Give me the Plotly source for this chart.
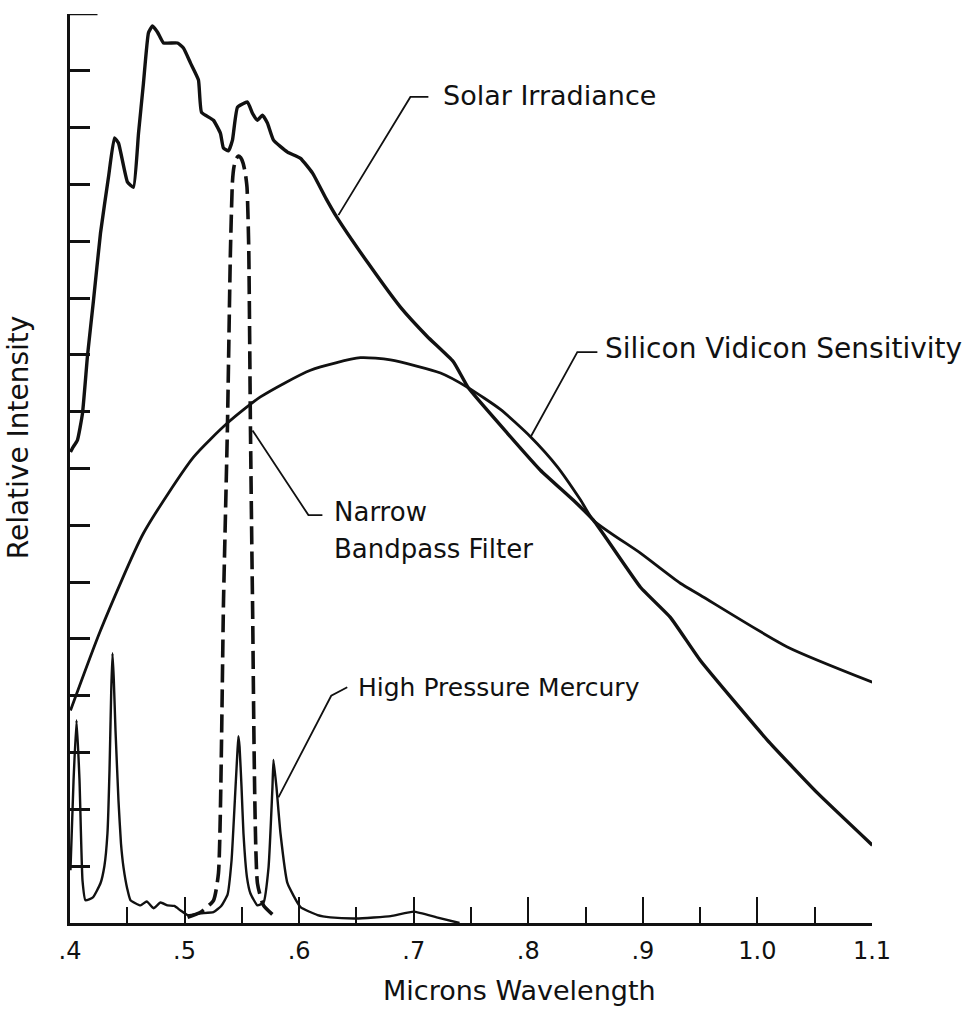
import plotly.graph_objects as go

# ---------------- data ----------------
solar_x = [0.4004, 0.4022, 0.4065, 0.4109, 0.4153, 0.4205, 0.4266, 0.4336, 0.4388, 0.4423,
           0.4502, 0.4554, 0.4598, 0.4641, 0.4685, 0.4720, 0.4764, 0.4816, 0.4938, 0.4990,
           0.5051, 0.5121, 0.5148, 0.5252, 0.5313, 0.5339, 0.5383, 0.5418, 0.5462, 0.5549,
           0.5593, 0.5636, 0.5680, 0.5723, 0.5776, 0.5898, 0.6012, 0.6117, 0.6235, 0.6330,
           0.6600, 0.6884, 0.7120, 0.7346, 0.7477, 0.7818, 0.8106, 0.8394, 0.8568, 0.8979,
           0.9240, 0.9502, 1.0086, 1.0523, 1.1003]
solar_y = [8.29, 8.36, 8.50, 8.97, 9.99, 10.96, 12.14, 13.13, 13.82, 13.73,
           13.04, 12.95, 13.90, 14.78, 15.67, 15.79, 15.68, 15.49, 15.49, 15.40,
           15.14, 14.84, 14.27, 14.13, 13.90, 13.64, 13.59, 13.78, 14.36, 14.45,
           14.25, 14.13, 14.22, 14.08, 13.78, 13.57, 13.46, 13.20, 12.75, 12.42,
           11.62, 10.84, 10.32, 9.88, 9.42, 8.62, 7.97, 7.44, 7.09, 5.91,
           5.38, 4.62, 3.22, 2.29, 1.37]

vidicon_x = [0.4004, 0.4266, 0.4641, 0.5078, 0.5374, 0.5662, 0.6099, 0.6535, 0.6797, 0.7234,
             0.7477, 0.7757, 0.8019, 0.8254, 0.8455, 0.8568, 0.8979, 0.9327, 0.9502, 1.0261,
             1.1003]
vidicon_y = [3.74, 5.15, 6.86, 8.20, 8.80, 9.26, 9.73, 9.95, 9.91, 9.68,
             9.42, 9.04, 8.56, 8.03, 7.45, 7.09, 6.51, 5.98, 5.77, 4.86,
             4.24]

filter_x = [0.5026, 0.5140, 0.5253, 0.5296, 0.5340, 0.5374, 0.5400, 0.5418, 0.5432, 0.5450,
            0.5470, 0.5490, 0.5510, 0.5530, 0.5545, 0.5560, 0.5575, 0.5593, 0.5636, 0.5689,
            0.5794]
filter_y = [0.10, 0.19, 0.40, 0.88, 5.68, 8.72, 11.80, 13.05, 13.32, 13.45,
            13.50, 13.47, 13.38, 13.20, 12.95, 11.90, 8.72, 5.68, 0.70, 0.31,
            0.10]

mercury_x = [0.4004, 0.4031, 0.4057, 0.4083, 0.4109, 0.4135, 0.4200, 0.4266, 0.4300, 0.4327,
             0.4345, 0.4360, 0.4371, 0.4382, 0.4397, 0.4423, 0.4445, 0.4467, 0.4500, 0.4528,
             0.4615, 0.4670, 0.4729, 0.4790, 0.4851, 0.4910, 0.4965, 0.5026, 0.5140, 0.5252,
             0.5320, 0.5375, 0.5410, 0.5445, 0.5462, 0.5470, 0.5480, 0.5497, 0.5514, 0.5545,
             0.5575, 0.5636, 0.5689, 0.5733, 0.5767, 0.5776, 0.5802, 0.5837, 0.5898, 0.6012,
             0.6161, 0.6273, 0.6500, 0.6800, 0.7000, 0.7200, 0.7400]
mercury_y = [0.93, 2.51, 3.57, 2.51, 0.75, 0.40, 0.45, 0.70, 1.00, 1.58,
             2.70, 4.10, 4.75, 4.30, 3.40, 2.16, 1.40, 0.98, 0.60, 0.40,
             0.31, 0.38, 0.26, 0.36, 0.31, 0.30, 0.22, 0.14, 0.17, 0.19,
             0.30, 0.50, 1.10, 2.40, 3.04, 3.29, 3.10, 2.40, 1.58, 0.80,
             0.52, 0.31, 0.36, 0.98, 2.39, 2.87, 2.39, 1.58, 0.70, 0.28,
             0.14, 0.10, 0.08, 0.12, 0.20, 0.10, 0.00]

tick_vals = [0.4, 0.5, 0.6, 0.7, 0.8, 0.9, 1.0, 1.1]
tick_text = [".4", ".5", ".6", ".7", ".8", ".9", "1.0", "1.1"]

FONT = "DejaVu Sans"
INK = "#111111"

fig = go.Figure()
fig.add_trace(go.Scatter(x=solar_x, y=solar_y, mode="lines", line_shape="spline",
                         line=dict(color=INK, width=3.4, smoothing=0.4), name="Solar Irradiance"))
fig.add_trace(go.Scatter(x=vidicon_x, y=vidicon_y, mode="lines", line_shape="spline",
                         line=dict(color=INK, width=2.8, smoothing=0.6),
                         name="Silicon Vidicon Sensitivity"))
fig.add_trace(go.Scatter(x=filter_x, y=filter_y, mode="lines", line_shape="spline",
                         line=dict(color=INK, width=3.6, dash="18px,7px", smoothing=0.5),
                         name="Narrow Bandpass Filter"))
fig.add_trace(go.Scatter(x=mercury_x, y=mercury_y, mode="lines", line_shape="spline",
                         line=dict(color=INK, width=2.4, smoothing=0.4),
                         name="High Pressure Mercury"))

# leader lines
leaders = [
    ([0.6343, 0.6971, 0.7128], [12.46, 14.54, 14.54]),
    ([0.8019, 0.8428, 0.8603], [8.55, 10.05, 10.05]),
    ([0.5593, 0.6081, 0.6203], [8.67, 7.18, 7.18]),
    ([0.5819, 0.6280, 0.6420], [2.21, 4.00, 4.15]),
]
for lx, ly in leaders:
    fig.add_trace(go.Scatter(x=lx, y=ly, mode="lines", line=dict(color=INK, width=1.8),
                             hoverinfo="skip"))

labels = [
    (0.7234, 14.57, "Solar Irradiance", 27),
    (0.8655, 10.12, "Silicon Vidicon Sensitivity", 28),
    (0.6291, 7.23, "Narrow", 26),
    (0.6291, 6.58, "Bandpass Filter", 26),
    (0.6500, 4.15, "High Pressure Mercury", 25),
]
for lx, ly, t, fs in labels:
    fig.add_annotation(x=lx, y=ly, text=t, showarrow=False, xanchor="left", yanchor="middle",
                       font=dict(family=FONT, size=fs, color=INK))

fig.add_annotation(x=0.560, y=-0.074, xref="paper", yref="paper", text="Microns Wavelength",
                   showarrow=False, xanchor="center", yanchor="middle",
                   font=dict(family=FONT, size=27, color=INK))
fig.add_annotation(x=-0.064, y=0.534, xref="paper", yref="paper", text="Relative Intensity",
                   showarrow=False, textangle=-90, xanchor="center", yanchor="middle",
                   font=dict(family=FONT, size=28, color=INK))

# longer top tick on the y axis
fig.add_shape(type="line", x0=0.4, x1=0.424, y0=16, y1=16, line=dict(color=INK, width=2.5))

fig.update_layout(
    width=980, height=1009,
    margin=dict(l=70, r=108, t=14, b=86),
    paper_bgcolor="white", plot_bgcolor="white",
    showlegend=False,
    xaxis=dict(range=[0.4, 1.1], showgrid=False, zeroline=False, automargin=False,
               showline=True, linecolor=INK, linewidth=2.5,
               ticks="inside", ticklen=26, tickwidth=2, tickcolor=INK,
               tickvals=tick_vals, ticktext=tick_text,
               tickfont=dict(family=FONT, size=24, color=INK), ticklabelstandoff=4,
               minor=dict(dtick=0.05, tick0=0.4, ticks="inside", ticklen=16,
                          tickwidth=2, tickcolor=INK)),
    yaxis=dict(range=[0, 16], showgrid=False, zeroline=False, automargin=False,
               showline=True, linecolor=INK, linewidth=2.5,
               ticks="inside", ticklen=20, tickwidth=2.5, tickcolor=INK,
               dtick=1, tick0=0, showticklabels=False),
)

fig.write_html("out.html", config={"displayModeBar": False},
               post_script="document.body.style.margin='0px';document.body.style.overflow='hidden';")
